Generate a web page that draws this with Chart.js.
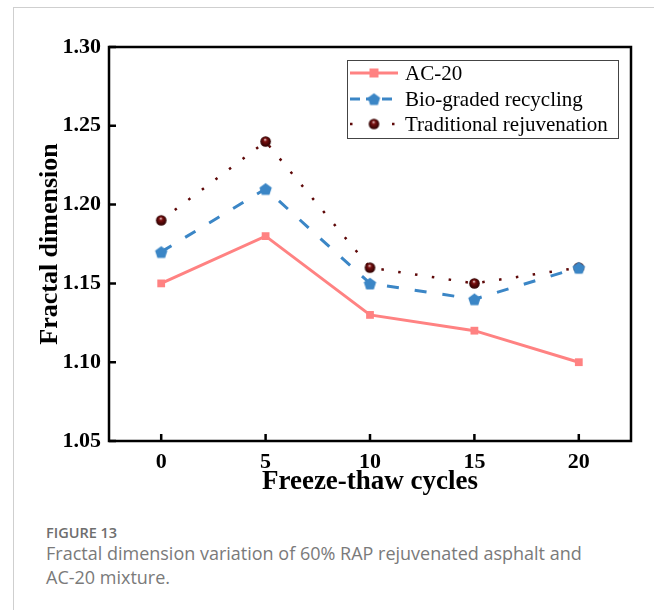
<!DOCTYPE html>
<html>
<head>
<meta charset="utf-8">
<script src="https://cdn.jsdelivr.net/npm/chart.js@4"></script>
<style>
  html, body { margin: 0; padding: 0; background: #fff; width: 654px; height: 610px; overflow: hidden; }
  #frame { position: absolute; left: 13px; top: 7px; width: 650px; height: 610px; border-top: 1px solid #cfcfcf; border-left: 1px solid #cfcfcf; }
  #c { position: absolute; left: 0; top: 0; }
  .figno { position: absolute; left: 46px; top: 523px; font-family: "Open Sans", sans-serif; font-weight: 600; font-size: 14.5px; line-height: 20px; color: #6e6e6e; }
  .cap { position: absolute; left: 46px; top: 541px; font-family: "Open Sans", sans-serif; font-size: 18px; line-height: 24px; color: #7a7a7a; width: 600px; }
</style>
</head>
<body>
<div id="frame"></div>
<canvas id="c" width="654" height="500"></canvas>
<div class="figno">FIGURE 13</div>
<div class="cap">Fractal dimension variation of 60% RAP rejuvenated asphalt and<br>AC-20 mixture.</div>
<script>
const cycles = [0, 5, 10, 15, 20];
const ac20 = [1.15, 1.18, 1.13, 1.12, 1.10];
const bioGraded = [1.17, 1.21, 1.15, 1.14, 1.16];
const traditional = [1.19, 1.24, 1.16, 1.15, 1.16];
const xTicks = [0, 5, 10, 15, 20];
const yTicks = [1.05, 1.10, 1.15, 1.20, 1.25, 1.30];
const seriesNames = ["AC-20", "Bio-graded recycling", "Traditional rejuvenation"];

function pentagon(color, r) {
  const c = document.createElement('canvas');
  const s = Math.ceil(r * 2 + 2);
  c.width = s; c.height = s;
  const g = c.getContext('2d');
  g.fillStyle = color;
  g.beginPath();
  for (let i = 0; i < 5; i++) {
    const a = -Math.PI / 2 + i * 2 * Math.PI / 5;
    const px = s / 2 + r * Math.cos(a), py = s / 2 + r * Math.sin(a) + 0.8;
    if (i === 0) g.moveTo(px, py); else g.lineTo(px, py);
  }
  g.closePath(); g.fill();
  return c;
}
function sphere(r) {
  const c = document.createElement('canvas');
  const s = Math.ceil(r * 2 + 2);
  c.width = s; c.height = s;
  const g = c.getContext('2d');
  const grad = g.createRadialGradient(s / 2 - r * 0.1, s / 2 - r * 0.4, r * 0.05, s / 2, s / 2, r);
  grad.addColorStop(0, '#e8c8c8');
  grad.addColorStop(0.3, '#7a1010');
  grad.addColorStop(1, '#2a0000');
  g.fillStyle = grad;
  g.beginPath(); g.arc(s / 2, s / 2, r, 0, Math.PI * 2); g.fill();
  return c;
}
const pent = pentagon('#3b86c6', 6.5);
const ball = sphere(5.3);

const toXY = (arr) => arr.map((v, i) => ({ x: cycles[i], y: v }));

const frameAndTicks = {
  id: 'frameAndTicks',
  afterDatasetsDraw(chart) {
    const { ctx, chartArea: a, scales } = chart;
    ctx.save();
    ctx.strokeStyle = '#000';
    ctx.lineWidth = 2.5;
    ctx.strokeRect(a.left, a.top, a.right - a.left, a.bottom - a.top);
    ctx.beginPath();
    xTicks.forEach(v => {
      const x = scales.x.getPixelForValue(v);
      ctx.moveTo(x, a.bottom); ctx.lineTo(x, a.bottom - 7);
    });
    yTicks.forEach(v => {
      const y = scales.y.getPixelForValue(v);
      ctx.moveTo(a.left, y); ctx.lineTo(a.left + 7, y);
    });
    ctx.stroke();
    ctx.restore();
  },
  afterDraw(chart) {
    const { ctx } = chart;
    const bx = 347, by = 60, bw = 271, bh = 78;
    ctx.save();
    ctx.fillStyle = '#fff';
    ctx.fillRect(bx, by, bw, bh);
    ctx.strokeStyle = '#444';
    ctx.lineWidth = 1;
    ctx.strokeRect(bx + 0.5, by + 0.5, bw, bh);
    const rows = [73, 99, 124];
    chart.data.datasets.forEach((ds, i) => {
      const y = rows[i];
      ctx.strokeStyle = ds.borderColor;
      ctx.lineWidth = ds.borderWidth;
      ctx.lineCap = ds.borderCapStyle || 'butt';
      ctx.setLineDash(ds.legendDash || []);
      ctx.beginPath(); ctx.moveTo(350, y); ctx.lineTo(398, y); ctx.stroke();
      ctx.setLineDash([]);
      const ps = ds.pointStyle;
      if (ps === 'rect') {
        ctx.fillStyle = ds.pointBackgroundColor;
        ctx.fillRect(374 - 4.5, y - 4.5, 9, 9);
      } else {
        ctx.drawImage(ps, 374 - ps.width / 2, y - ps.height / 2);
      }
      ctx.fillStyle = '#000';
      ctx.font = '21px "Liberation Serif", "Times New Roman", serif';
      ctx.textBaseline = 'middle';
      ctx.textAlign = 'left';
      ctx.fillText(ds.label, 405, y + 1);
    });
    ctx.restore();
  }
};

new Chart(document.getElementById('c'), {
  type: 'line',
  data: {
    datasets: [
      { label: seriesNames[0], data: toXY(ac20), borderColor: '#ff8282', borderWidth: 3,
        pointStyle: 'rect', pointRadius: 5.5, pointBackgroundColor: '#ff8282', pointBorderWidth: 0, pointBorderColor: '#ff8282' },
      { label: seriesNames[1], data: toXY(bioGraded), borderColor: '#3b86c6', borderWidth: 3, borderDash: [12, 16], legendDash: [10, 6],
        pointStyle: pent, pointRadius: 6 },
      { label: seriesNames[2], data: toXY(traditional), borderColor: '#5e0808', borderWidth: 2.5, borderDash: [2.5, 14.5], legendDash: [2.5, 18.5],
        pointStyle: ball, pointRadius: 6 }
    ]
  },
  options: {
    responsive: false,
    animation: false,
    layout: { padding: { top: 47, right: 23, left: 0, bottom: 0 } },
    plugins: { legend: { display: false }, tooltip: { enabled: false } },
    elements: { line: { tension: 0 } },
    scales: {
      x: {
        type: 'linear', min: -2.5, max: 22.5,
        afterBuildTicks: (s) => { s.ticks = xTicks.map(v => ({ value: v })); },
        afterFit: (s) => { s.height = 59; },
        grid: { display: false, drawTicks: false },
        border: { display: false },
        ticks: { padding: 8, color: '#000', font: { family: '"Liberation Serif", "Times New Roman", serif', size: 22, weight: 'bold' } },
        title: { display: true, text: 'Freeze-thaw cycles', color: '#000', padding: { top: 0, bottom: 2 },
          font: { family: '"Liberation Serif", "Times New Roman", serif', size: 27, weight: 'bold' } }
      },
      y: {
        type: 'linear', min: 1.05, max: 1.30,
        afterBuildTicks: (s) => { s.ticks = yTicks.map(v => ({ value: v })); },
        afterFit: (s) => { s.width = 109; },
        grid: { display: false, drawTicks: false },
        border: { display: false },
        ticks: { padding: 8, color: '#000', callback: (v) => v.toFixed(2),
          font: { family: '"Liberation Serif", "Times New Roman", serif', size: 22, weight: 'bold' } },
        title: { display: true, text: 'Fractal dimension', color: '#000', padding: { top: 35, bottom: 0 },
          font: { family: '"Liberation Serif", "Times New Roman", serif', size: 26, weight: 'bold' } }
      }
    }
  },
  plugins: [frameAndTicks]
});
</script>
</body>
</html>
